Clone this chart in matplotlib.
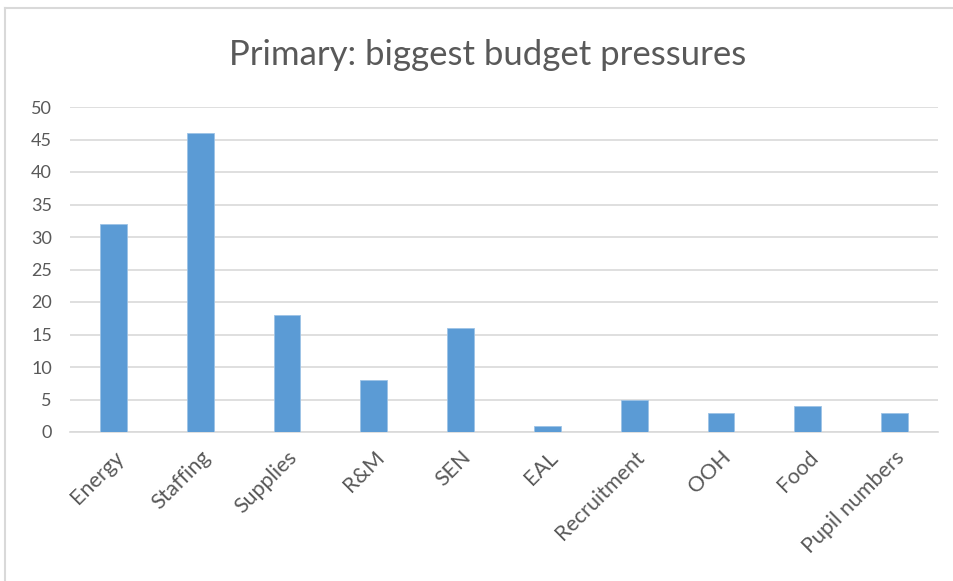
import matplotlib.pyplot as plt
from matplotlib.lines import Line2D
import numpy as np

categories = ['Energy', 'Staffing', 'Supplies', 'R&M', 'SEN', 'EAL',
              'Recruitment', 'OOH', 'Food', 'Pupil numbers']
values = [32, 46, 18, 8, 16, 1, 5, 3, 4, 3]
y_ticks = [0, 5, 10, 15, 20, 25, 30, 35, 40, 45, 50]

plt.rcParams['font.family'] = ['Lato', 'DejaVu Sans']
text_col = '#595959'
grid_col = '#d9d9d9'

fig = plt.figure(figsize=(9.54, 5.81), dpi=100)
ax = fig.add_axes([70 / 954, 1 - 432 / 581, 868 / 954, 325 / 581])

x = np.arange(len(categories))
ax.bar(x, values, width=0.31, color='#5B9BD5', edgecolor='#9dc3e6', linewidth=0.6, zorder=3)

ax.set_xlim(-0.5, len(categories) - 0.5)
ax.set_ylim(0, 50)
ax.set_yticks(y_ticks)
ax.set_yticklabels([str(t) for t in y_ticks], fontsize=13, color=text_col)
ax.set_xticks(x)
ax.set_xticklabels(categories, fontsize=15.5, color=text_col, rotation=45,
                   ha='right', rotation_mode='anchor')
ax.tick_params(axis='both', length=0)
ax.tick_params(axis='y', pad=13)
ax.tick_params(axis='x', pad=11)

ax.grid(axis='y', color=grid_col, linewidth=1.2, zorder=0)
for s in ['top', 'right', 'left']:
    ax.spines[s].set_visible(False)
ax.spines['bottom'].set_color(grid_col)
ax.spines['bottom'].set_linewidth(1.2)

fig.text(488 / 954, 1 - 55 / 581, 'Primary: biggest budget pressures', ha='center', va='center',
         fontsize=25, color=text_col)

# outer chart border (left and top only visible)
fig.add_artist(Line2D([5 / 954, 5 / 954], [0, 1 - 8 / 581], color=grid_col, linewidth=1.5,
                      transform=fig.transFigure))
fig.add_artist(Line2D([5 / 954, 1], [1 - 8 / 581, 1 - 8 / 581], color=grid_col, linewidth=1.5,
                      transform=fig.transFigure))

fig.savefig('out.png', dpi=100, facecolor='white')
